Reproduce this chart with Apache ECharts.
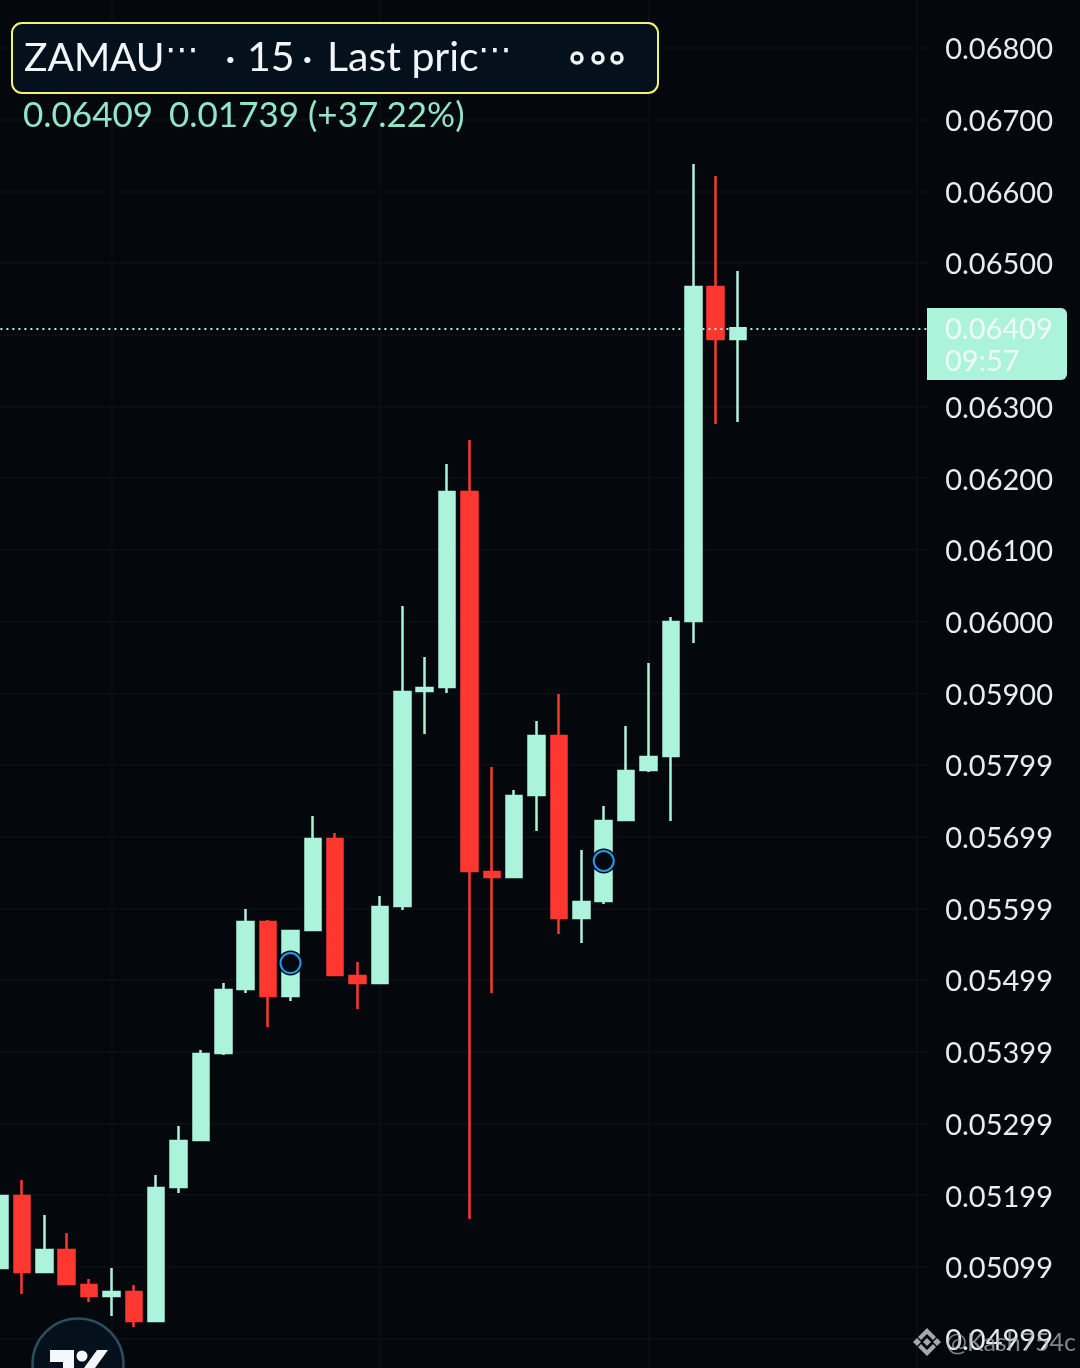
<!DOCTYPE html>
<html><head><meta charset="utf-8">
<style>html,body{margin:0;padding:0;background:#04070c}#c{width:1080px;height:1368px}</style>
<script src="https://cdn.jsdelivr.net/npm/echarts@6/dist/echarts.min.js"></script>
</head><body><div id="c"></div>
<script>
const categories = ['00','01','02','03','04','05','06','07','08','09','10','11','12','13','14','15','16','17','18','19','20','21','22','23','24','25','26','27','28','29','30','31','32','33','34','35','36','37','38','39','40','41'];
const opens  = [0.050985,0.051989,0.050929,0.051236,0.050748,0.050594,0.050650,0.050246,0.052114,0.052770,0.053983,0.054876,0.055810,0.054778,0.055699,0.056968,0.055057,0.054960,0.056034,0.059032,0.059088,0.061808,0.056508,0.056438,0.057582,0.058405,0.055866,0.056103,0.057233,0.057930,0.058126,0.060008,0.064667,0.063942];
const closes = [0.051989,0.050929,0.051236,0.050762,0.050594,0.050650,0.050246,0.052100,0.052756,0.053969,0.054862,0.055810,0.054778,0.055685,0.056968,0.055071,0.054960,0.056020,0.059018,0.059074,0.061808,0.056522,0.056438,0.057568,0.058405,0.055866,0.056089,0.057219,0.057916,0.058112,0.059995,0.064667,0.063942,0.064090];
const lows   = [0.050971,0.050622,0.050929,0.050762,0.050511,0.050315,0.050162,0.050246,0.052031,0.052770,0.053955,0.054820,0.054346,0.054709,0.055699,0.055071,0.054597,0.054960,0.055978,0.058432,0.059004,0.051668,0.054820,0.056438,0.057080,0.055643,0.055518,0.056061,0.057233,0.057902,0.057219,0.059702,0.062756,0.062784];
const highs  = [0.052003,0.052212,0.051724,0.051473,0.050831,0.050985,0.050748,0.052282,0.052965,0.054025,0.054960,0.055992,0.055838,0.055685,0.057289,0.057052,0.055253,0.056173,0.060218,0.059506,0.062198,0.062533,0.057972,0.057651,0.058614,0.058990,0.056815,0.057428,0.058544,0.059423,0.060064,0.066382,0.066215,0.064890];
const tickLabels = ['0.04900','0.04999','0.05099','0.05199','0.05299','0.05399','0.05499','0.05599','0.05699','0.05799','0.05900','0.06000','0.06100','0.06200','0.06300','0.06400','0.06500','0.06600','0.06700','0.06800','0.06900'];
const hiddenTick = '0.06400';
const verticalGridAt = ['05','17','29','41'];
const alertMarks = [['13',0.055238],['27',0.056661]];
const lastPrice = 0.06409;
const lastPriceText = '0.06409';
const countdownText = '09:57';

const TEAL='#acf3dc', RED='#fe3830', FONT='Lato';
const GRID='#0a0e13';
const candles = opens.map((o,i)=>[o,closes[i],lows[i],highs[i]]);
const txt=(x,y,text,size,fill,extra)=>({type:'text',z:100,x,y,style:Object.assign({text,font:size+'px '+FONT,fill,textVerticalAlign:'middle'},extra||{})});
const dots=(x)=>txt(x,52,'\u22EF',34,'#f3f6f8',{font:'34px "DejaVu Sans"'});
const poly=(pts,fill)=>({type:'polygon',z:100,shape:{points:pts},style:{fill}});
const ring=(cx)=>({type:'circle',z:101,shape:{cx,cy:58,r:5},style:{fill:'transparent',stroke:'#f0f4f6',lineWidth:3.5}});
const BN='#a3a9ad';

const chart = echarts.init(document.getElementById('c'),null,{renderer:'canvas'});
chart.setOption({
  animation:false, backgroundColor:'#04070c',
  grid:{left:-11.6,top:-23.7,width:939.8,height:1434,containLabel:false,outerBoundsMode:'none'},
  xAxis:{type:'category',data:categories,boundaryGap:true,axisLine:{show:false},axisTick:{show:false},axisLabel:{show:false},splitLine:{show:false}},
  yAxis:{type:'value',position:'right',min:0.049,max:0.069,interval:0.001,scale:true,
    axisLine:{show:false},axisTick:{show:false},
    splitLine:{show:true,lineStyle:{color:GRID,width:2}},
    axisLabel:{show:true,inside:false,margin:17,align:'left',fontFamily:FONT,fontSize:29,color:'#e6edf0',
      rich:{a:{fontFamily:FONT,fontSize:29,color:'#e6edf0',padding:[4,0,0,0]}},
      formatter:(v,i)=>{const s=tickLabels[i];return s===hiddenTick?'':'{a|'+s+'}';}}},
  series:[
    {type:'line',data:[],z:1,silent:true,
     markLine:{silent:true,symbol:'none',z:1,animation:false,label:{show:false},
       lineStyle:{color:GRID,width:2,type:'solid'},
       data:verticalGridAt.map(c=>({xAxis:c}))}},
    {type:'candlestick',data:candles,barWidth:16,z:3,silent:true,
     itemStyle:{color:TEAL,color0:RED,borderColor:TEAL,borderColor0:RED,borderWidth:2.5},
     markLine:{silent:true,symbol:'none',z:4,animation:false,precision:5,label:{show:false},
       lineStyle:{color:TEAL,width:2,type:[2,4]},
       data:[{yAxis:lastPrice}]}},
    {type:'scatter',data:alertMarks,symbol:'circle',symbolSize:25,z:5,silent:true,
     itemStyle:{color:'#04070c',opacity:1}},
    {type:'scatter',data:alertMarks,symbol:'circle',symbolSize:20,z:6,silent:true,
     itemStyle:{color:'#04070c',borderColor:'#1b9cf2',borderWidth:2,opacity:1}}
  ],
  graphic:[
    {type:'rect',z:99,shape:{x:12,y:23,width:646,height:70,r:10},style:{fill:'#04101c',stroke:'#f5f36c',lineWidth:2}},
    txt(24,58,'ZAMAU',39,'#f3f6f8'),
    dots(165),
    txt(225,59,'·',41,'#f3f6f8'),
    txt(247,58,'15',41,'#f3f6f8'),
    txt(302,59,'·',41,'#f3f6f8'),
    txt(327,58,'Last pric',41,'#f3f6f8'),
    dots(478),
    ring(577),ring(598),ring(617),
    txt(23,116,lastPriceText,35,'#92e6c8'),
    txt(169,116,'0.01739 (+37.22%)',35,'#92e6c8'),
    {type:'rect',z:99,shape:{x:927,y:308,width:140,height:72,r:[0,6,6,0]},style:{fill:TEAL}},
    txt(945,330,lastPriceText,29,'#f2faf7'),
    txt(945,362,countdownText,29,'#f2faf7'),
    {type:'circle',z:99,shape:{cx:78,cy:1364,r:45.5},style:{fill:'#04101c',stroke:'#2b4d5c',lineWidth:2.5}},
    poly([[50,1350],[74,1350],[74,1368],[63,1368],[63,1362],[50,1362]],'#f3f7fa'),
    {type:'circle',z:100,shape:{cx:82,cy:1356,r:5.5},style:{fill:'#f3f7fa'}},
    poly([[97,1350],[108,1350],[95,1368],[84,1368]],'#f3f7fa'),
    poly([[927,1338],[931,1342],[927,1346],[923,1342]],BN),
    poly([[917,1338],[921,1342],[917,1346],[913,1342]],BN),
    poly([[937,1338],[941,1342],[937,1346],[933,1342]],BN),
    poly([[927,1328],[936,1337],[933,1340],[927,1334],[921,1340],[918,1337]],BN),
    poly([[927,1356],[936,1347],[933,1344],[927,1350],[921,1344],[918,1347]],BN),
    txt(946,1343,'@Kash754c',25,'rgba(175,185,190,0.72)')
  ]
});
</script></body></html>
